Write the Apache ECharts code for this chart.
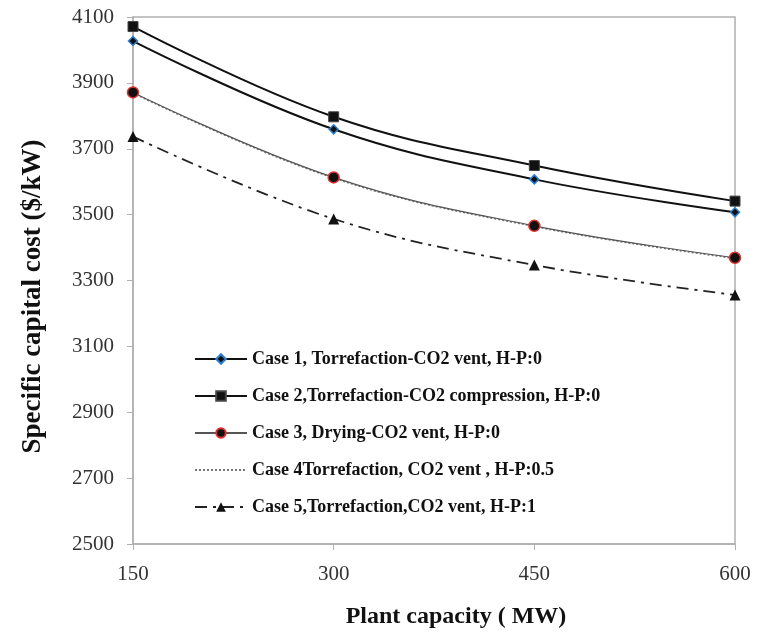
<!DOCTYPE html>
<html>
<head>
<meta charset="utf-8">
<title>Specific capital cost</title>
<script src="https://cdn.jsdelivr.net/npm/echarts@6/dist/echarts.min.js"></script>
<style>
  html, body { margin: 0; padding: 0; background: #fff; }
  #chart { width: 765px; height: 634px; }
</style>
</head>
<body>
<div id="chart"></div>
<script type="text/javascript">
// plant capacity (MW)
var capacity = [150, 300, 450, 600];

// specific capital cost ($/kW)
var case1 = [4027, 3759, 3607, 3507];
var case2 = [4071, 3797, 3649, 3541];
var case3 = [3871, 3613, 3466, 3369];
var case4 = [3869, 3611, 3464, 3367];
var case5 = [3737, 3487, 3347, 3256];

var names = [
    'Case 1, Torrefaction-CO2 vent, H-P:0',
    'Case 2,Torrefaction-CO2 compression, H-P:0',
    'Case 3, Drying-CO2 vent, H-P:0',
    'Case 4Torrefaction, CO2 vent , H-P:0.5',
    'Case 5,Torrefaction,CO2 vent, H-P:1'
];

function pairs(arr) {
    return capacity.map(function (c, i) { return [c, arr[i]]; });
}

var serif = '"Liberation Serif", "DejaVu Serif", serif';

var chart = echarts.init(document.getElementById('chart'));
var option = {
    animation: false,
    grid: {
        left: 133,
        right: 30,
        top: 17,
        bottom: 89,
        show: true,
        borderColor: '#b0b0b0',
        borderWidth: 1.5
    },
    legend: {
        orient: 'vertical',
        left: 189,
        top: 345,
        itemWidth: 52,
        itemHeight: 12,
        itemGap: 19,
        textStyle: {
            fontFamily: serif,
            fontWeight: 'bold',
            fontSize: 18,
            color: '#111'
        },
        data: names
    },
    xAxis: {
        type: 'value',
        min: 150,
        max: 600,
        interval: 150,
        name: 'Plant capacity ( MW)',
        nameLocation: 'middle',
        nameGap: 61,
        nameTextStyle: {
            fontFamily: serif,
            fontWeight: 'bold',
            fontSize: 24,
            color: '#111',
            padding: [0, 0, 0, 44]
        },
        axisLine: { lineStyle: { color: '#b0b0b0', width: 1.5 } },
        axisTick: { length: 6, lineStyle: { color: '#b0b0b0' } },
        axisLabel: {
            fontFamily: serif,
            fontSize: 21,
            color: '#333',
            margin: 20
        },
        splitLine: { show: false }
    },
    yAxis: {
        type: 'value',
        min: 2500,
        max: 4100,
        interval: 200,
        name: 'Specific capital cost ($/kW)',
        nameLocation: 'middle',
        nameGap: 86,
        nameTextStyle: {
            fontFamily: serif,
            fontWeight: 'bold',
            fontSize: 27,
            color: '#111',
            padding: [0, 32, 0, 0]
        },
        axisLine: { show: true, lineStyle: { color: '#b0b0b0', width: 1.5 } },
        axisTick: { show: true, length: 6, lineStyle: { color: '#b0b0b0' } },
        axisLabel: {
            fontFamily: serif,
            fontSize: 21,
            color: '#333',
            margin: 19,
            formatter: function (v) { return String(v); }
        },
        splitLine: { show: false }
    },
    series: [
        {
            name: names[0],
            type: 'line',
            smooth: 0.4,
            data: pairs(case1),
            symbol: 'diamond',
            symbolSize: 9,
            itemStyle: { color: '#111', borderColor: '#2a7fd0', borderWidth: 1.5 },
            lineStyle: { color: '#111', width: 2 },
            z: 4
        },
        {
            name: names[1],
            type: 'line',
            smooth: 0.4,
            data: pairs(case2),
            symbol: 'rect',
            symbolSize: 10,
            itemStyle: { color: '#111', borderColor: '#444', borderWidth: 1 },
            lineStyle: { color: '#111', width: 2 },
            z: 4
        },
        {
            name: names[2],
            type: 'line',
            smooth: 0.4,
            data: pairs(case3),
            symbol: 'circle',
            symbolSize: 11,
            itemStyle: { color: '#111', borderColor: '#e03030', borderWidth: 1.5 },
            lineStyle: { color: '#555', width: 1.2 },
            z: 5
        },
        {
            name: names[3],
            type: 'line',
            smooth: 0.4,
            data: pairs(case4),
            symbol: 'circle',
            symbolSize: 0,
            itemStyle: { color: 'rgba(0,0,0,0)', borderWidth: 0 },
            lineStyle: { color: '#777', width: 1.5, type: [2, 2] },
            z: 3
        },
        {
            name: names[4],
            type: 'line',
            smooth: 0.4,
            data: pairs(case5),
            symbol: 'triangle',
            symbolSize: 11,
            itemStyle: { color: '#111' },
            lineStyle: { color: '#222', width: 1.8, type: [12, 6, 3, 6] },
            z: 4
        }
    ]
};

chart.setOption(option);
</script>
</body>
</html>
